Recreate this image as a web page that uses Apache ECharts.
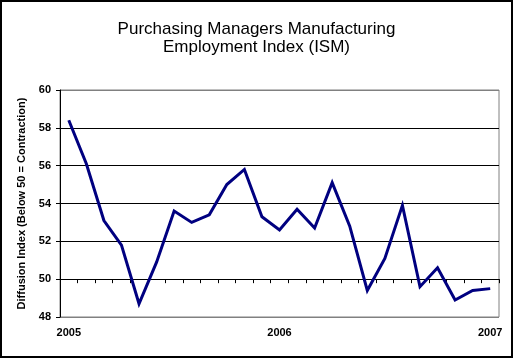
<!DOCTYPE html>
<html>
<head>
<meta charset="utf-8">
<script src="https://cdn.jsdelivr.net/npm/echarts@6/dist/echarts.min.js"></script>
<style>
html,body{margin:0;padding:0;background:#fff;}
#chart{width:513px;height:358px;}
</style>
</head>
<body>
<div id="chart"></div>
<script>
var months = ['2005-01','2005-02','2005-03','2005-04','2005-05','2005-06','2005-07','2005-08','2005-09','2005-10','2005-11','2005-12',
              '2006-01','2006-02','2006-03','2006-04','2006-05','2006-06','2006-07','2006-08','2006-09','2006-10','2006-11','2006-12',
              '2007-01'];
var employmentIndex = [58.4, 56.1, 53.1, 51.8, 48.7, 50.9, 53.6, 53.0, 53.4, 55.0, 55.8, 53.3,
                       52.6, 53.7, 52.7, 55.1, 52.8, 49.4, 51.1, 53.9, 49.6, 50.6, 48.9, 49.4,
                       49.5];
var yMin = 48, yMax = 60, yStep = 2;
var axisCross = 50;

var gridLeft = 60, gridTop = 90, gridRight = 14, gridHeight = 227;
var gridBottom = 358 - gridTop - gridHeight;
var xOffset = -gridHeight * (axisCross - yMin) / (yMax - yMin);
var font = "'Liberation Sans', Arial, sans-serif";

var splitColors = [];
for (var v = yMin; v <= yMax; v += yStep) {
  splitColors.push((v === yMin || v === yMax) ? '#808080' : '#000000');
}

var chart = echarts.init(document.getElementById('chart'), null, {renderer: 'canvas'});
chart.setOption({
  animation: false,
  backgroundColor: '#fff',
  title: {
    text: 'Purchasing Managers Manufacturing\nEmployment Index (ISM)',
    left: 'center',
    top: 15,
    textStyle: {fontFamily: font, fontSize: 17, fontWeight: 'normal', color: '#000', lineHeight: 18}
  },
  graphic: [{
    type: 'rect',
    shape: {x: 1, y: 1, width: 511, height: 356},
    style: {fill: 'none', stroke: '#000', lineWidth: 2},
    silent: true,
    z: 100
  }],
  grid: {
    left: gridLeft, top: gridTop, right: gridRight, bottom: gridBottom,
    show: true, borderColor: '#808080', borderWidth: 1, backgroundColor: 'transparent',
    containLabel: false, outerBoundsMode: 'none'
  },
  xAxis: {
    type: 'category',
    data: months,
    boundaryGap: true,
    position: 'bottom',
    offset: xOffset,
    axisLine: {show: true, onZero: false, lineStyle: {color: '#000', width: 1}},
    axisTick: {show: true, interval: 0, inside: false, length: 4, lineStyle: {color: '#000'}},
    axisLabel: {
      interval: 11,
      margin: -xOffset + 10,
      fontFamily: font, fontSize: 11, fontWeight: 'bold', color: '#000',
      formatter: function (v) { return v.slice(0, 4); }
    },
    splitLine: {show: false}
  },
  yAxis: {
    type: 'value',
    min: yMin, max: yMax, interval: yStep,
    name: 'Diffusion Index (Below 50 = Contraction)',
    nameLocation: 'middle',
    nameGap: 24,
    nameTextStyle: {fontFamily: font, fontSize: 11, fontWeight: 'bold', color: '#000'},
    axisLine: {show: true, lineStyle: {color: '#000', width: 1}},
    axisTick: {show: true, inside: false, length: 4, lineStyle: {color: '#000'}},
    axisLabel: {margin: 9, fontFamily: font, fontSize: 11, fontWeight: 'bold', color: '#000'},
    splitLine: {show: true, lineStyle: {color: splitColors, width: 1}}
  },
  series: [{
    type: 'line',
    data: employmentIndex,
    symbol: 'none',
    smooth: false,
    lineStyle: {color: '#000080', width: 3, join: 'miter'},
    z: 5
  }]
});
</script>
</body>
</html>
